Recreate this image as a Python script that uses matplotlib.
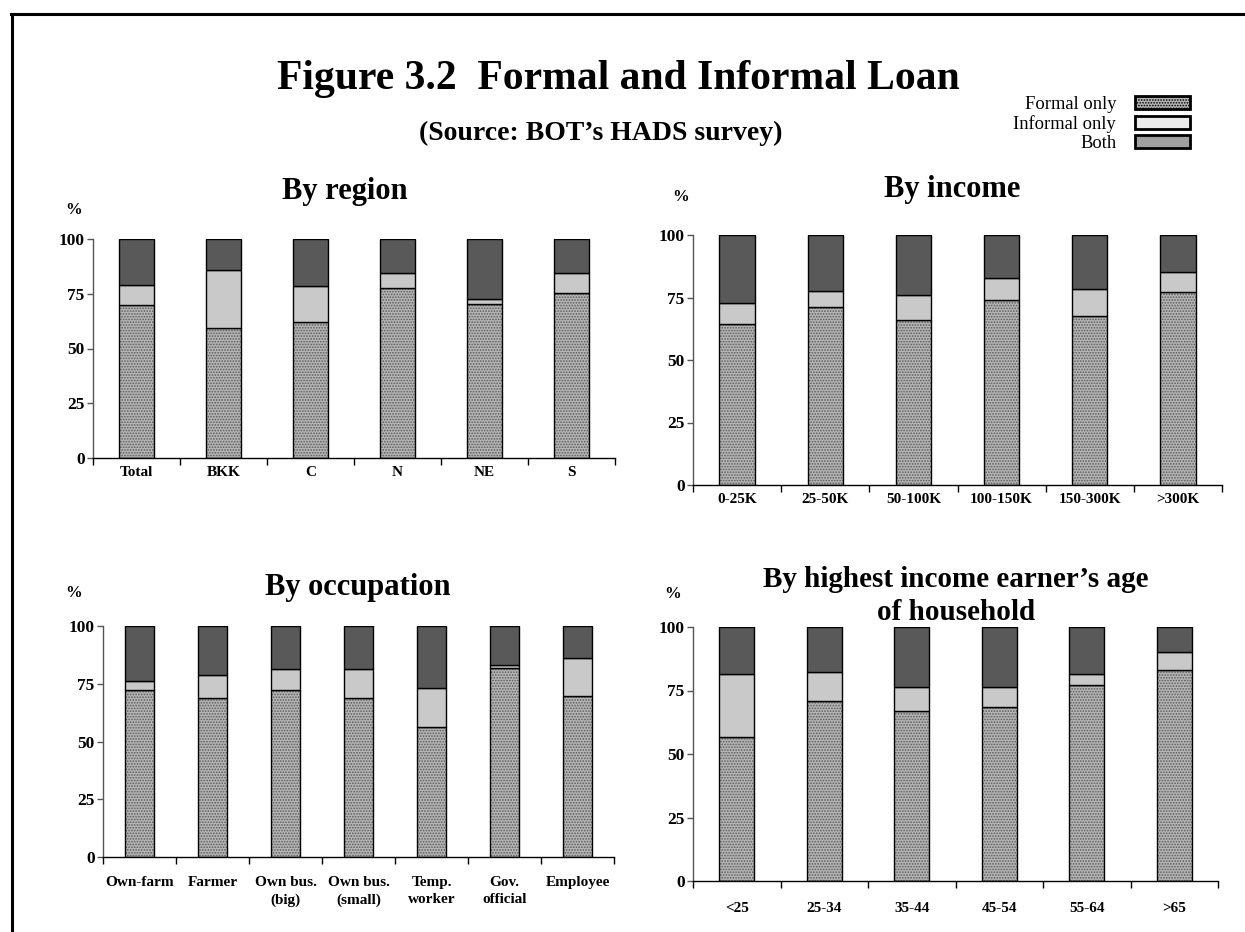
import matplotlib
matplotlib.use("Agg")
import matplotlib.pyplot as plt
from matplotlib.patches import Patch
from matplotlib.lines import Line2D
import numpy as np

plt.rcParams["font.family"] = "Liberation Serif"
plt.rcParams["hatch.linewidth"] = 0.8

# ---- data (percent of households with loans) ----
region_labels = ["Total", "BKK", "C", "N", "NE", "S"]
region_formal = [70.0, 59.4, 62.2, 77.8, 70.3, 75.5]
region_informal = [8.9, 26.5, 16.3, 6.8, 2.3, 9.2]
region_both = [21.1, 14.1, 21.5, 15.4, 27.4, 15.3]

income_labels = ["0-25K", "25-50K", "50-100K", "100-150K", "150-300K", ">300K"]
income_formal = [64.6, 71.4, 66.2, 74.0, 67.6, 77.4]
income_informal = [8.4, 6.3, 9.7, 9.0, 11.0, 8.0]
income_both = [27.0, 22.3, 24.1, 17.0, 21.4, 14.6]

occupation_labels = ["Own-farm", "Farmer", "Own bus.\n(big)", "Own bus.\n(small)",
                     "Temp.\nworker", "Gov.\nofficial", "Employee"]
occupation_formal = [72.5, 68.9, 72.5, 68.9, 56.3, 81.8, 69.9]
occupation_informal = [3.9, 9.9, 9.1, 12.4, 16.8, 1.5, 16.1]
occupation_both = [23.6, 21.2, 18.4, 18.7, 26.9, 16.7, 14.0]

age_labels = ["<25", "25-34", "35-44", "45-54", "55-64", ">65"]
age_formal = [56.7, 70.9, 67.1, 68.7, 77.0, 82.9]
age_informal = [24.6, 11.5, 9.2, 7.6, 4.4, 7.2]
age_both = [18.7, 17.6, 23.7, 23.7, 18.6, 9.9]

y_ticks = [0, 25, 50, 75, 100]

W, H = 1245, 932
fig = plt.figure(figsize=(W / 100, H / 100), dpi=100)

FORMAL_FACE = "#b4b4b4"
FORMAL_DOTS = "#5c5c5c"
INFORMAL_FACE = "#c9c9c9"
BOTH_FACE = "#595959"


def px_axes(x0, y0, x1, y1):
    return fig.add_axes([x0 / W, 1 - y1 / H, (x1 - x0) / W, (y1 - y0) / H])


def panel(ax, labels, formal, informal, both, title, title_xy, pct_xy, pad,
          title_size=22):
    n = len(labels)
    x = np.arange(n)
    width = 0.40
    formal = np.array(formal)
    informal = np.array(informal)
    both = np.array(both)
    # stippled formal segment, then outlines on top
    ax.bar(x, formal, width, color=FORMAL_FACE, edgecolor=FORMAL_DOTS,
           hatch="......", linewidth=0)
    ax.bar(x, formal, width, fill=False, edgecolor="black", linewidth=1.0)
    ax.bar(x, informal, width, bottom=formal, color=INFORMAL_FACE,
           edgecolor="black", linewidth=1.0)
    ax.bar(x, both, width, bottom=formal + informal, color=BOTH_FACE,
           edgecolor="black", linewidth=1.0)

    ax.set_xlim(-0.5, n - 0.5)
    ax.set_ylim(0, 100)
    ax.set_yticks(y_ticks)
    ax.set_yticklabels([str(t) for t in y_ticks], fontsize=12.5, fontweight="bold")
    ax.set_xticks(np.arange(n + 1) - 0.5)
    ax.set_xticklabels([])
    ax.set_xticks(x, minor=True)
    ax.set_xticklabels(labels, minor=True, fontsize=11, fontweight="bold",
                       linespacing=1.4)
    ax.tick_params(axis="x", which="minor", length=0, pad=pad)
    ax.tick_params(axis="x", which="major", length=5, width=1, direction="out")
    ax.tick_params(axis="y", length=4, width=1, direction="out", pad=2,
                   color="#555555")
    for s in ("top", "right"):
        ax.spines[s].set_visible(False)
    ax.spines["left"].set_color("#555555")
    ax.spines["bottom"].set_color("black")
    ax.spines["left"].set_linewidth(1.0)
    ax.spines["bottom"].set_linewidth(1.0)

    fig.text(title_xy[0] / W, 1 - title_xy[1] / H, title, fontsize=title_size,
             fontweight="bold", ha="center", va="center", linespacing=1.25)
    fig.text(pct_xy[0] / W, 1 - pct_xy[1] / H, "%", fontsize=12,
             fontweight="bold", ha="center", va="center")


ax1 = px_axes(93, 239, 615, 458)
panel(ax1, region_labels, region_formal, region_informal, region_both,
      "By region", (345, 192), (74, 210), 6)

ax2 = px_axes(693, 235, 1222, 485)
panel(ax2, income_labels, income_formal, income_informal, income_both,
      "By income", (952, 190), (681, 197), 6)

ax3 = px_axes(103, 626, 614, 857)
panel(ax3, occupation_labels, occupation_formal, occupation_informal,
      occupation_both, "By occupation", (358, 587), (74, 593), 14)

ax4 = px_axes(693, 627, 1218, 881)
panel(ax4, age_labels, age_formal, age_informal, age_both,
      "By highest income earner\u2019s age\nof household", (956, 596),
      (673, 594), 15, title_size=21)

# main titles
fig.text(618 / W, 1 - 79 / H, "Figure 3.2  Formal and Informal Loan",
         fontsize=30, fontweight="bold", ha="center", va="center")
fig.text(601 / W, 1 - 133 / H, "(Source: BOT\u2019s HADS survey)",
         fontsize=20, fontweight="bold", ha="center", va="center")

# legend
handles = [
    Patch(facecolor=FORMAL_FACE, edgecolor="black", hatch="......", linewidth=2),
    Patch(facecolor="#ececec", edgecolor="black", linewidth=2),
    Patch(facecolor="#a0a0a0", edgecolor="black", linewidth=2),
]
fig.legend(handles, ["Formal only", "Informal only", "Both"],
           loc="upper right", bbox_to_anchor=(1190 / W, 1 - 96 / H),
           markerfirst=False, frameon=False, fontsize=13.3,
           handlelength=3.0, handleheight=0.7, handletextpad=1.0,
           labelspacing=0.12, borderpad=0, borderaxespad=0)

# outer frame
fig.add_artist(Line2D([11.5 / W, 11.5 / W], [0, 1 - 13.5 / H],
                      transform=fig.transFigure, color="black", linewidth=2.2))
fig.add_artist(Line2D([10.5 / W, 1], [1 - 13.5 / H, 1 - 13.5 / H],
                      transform=fig.transFigure, color="black", linewidth=2.2))

fig.savefig("out.png", dpi=100, facecolor="white")
